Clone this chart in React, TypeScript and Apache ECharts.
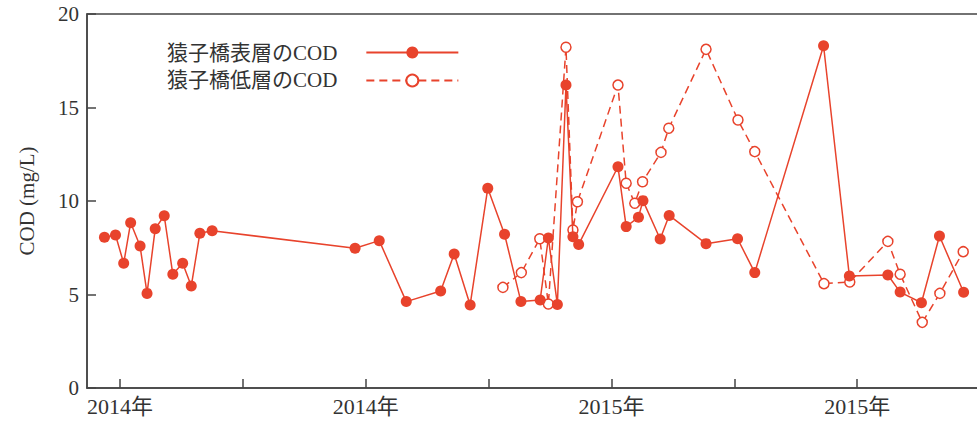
import React, { useEffect, useRef } from 'react';
import * as echarts from 'echarts';

const surfaceName = '猿子橋表層のCOD';
const bottomName = '猿子橋低層のCOD';

const surfaceX = [-0.38, -0.11, 0.09, 0.26, 0.49, 0.66, 0.86, 1.08, 1.29, 1.53, 1.74, 1.95, 2.25,
  5.74, 6.33, 6.99, 7.83, 8.16, 8.55, 8.98, 9.39, 9.79, 10.26, 10.46, 10.68, 10.89, 11.06, 11.2,
  12.16, 12.36, 12.66, 12.77, 13.19, 13.41, 14.31, 15.08, 15.5, 17.18, 17.81, 18.75, 19.05, 19.57, 20.01, 20.6];
const surfaceY = [8.06, 8.18, 6.67, 8.84, 7.59, 5.06, 8.52, 9.21, 6.08, 6.67, 5.45, 8.27, 8.41,
  7.47, 7.88, 4.62, 5.19, 7.17, 4.44, 10.68, 8.22, 4.62, 4.71, 8.02, 4.47, 16.2, 8.09, 7.68,
  11.83, 8.63, 9.13, 10.02, 7.97, 9.23, 7.72, 7.98, 6.17, 18.3, 5.99, 6.04, 5.13, 4.56, 8.13, 5.12];

const bottomX = [9.35, 9.8, 10.25, 10.46, 10.89, 11.06, 11.17, 12.16, 12.36, 12.57, 12.76, 13.21, 13.4,
  14.31, 15.09, 15.5, 17.19, 17.82, 18.75, 19.05, 19.59, 20.02, 20.59];
const bottomY = [5.38, 6.17, 7.98, 4.49, 18.22, 8.45, 9.96, 16.2, 10.95, 9.88, 11.03, 12.6, 13.89,
  18.11, 14.33, 12.64, 5.58, 5.67, 7.84, 6.08, 3.51, 5.06, 7.29];

const xTickValues = [0, 3, 6, 9, 12, 15, 18];
const xLabelValues = [0, 6, 12, 18];
const xLabelTexts = ['2014年', '2014年', '2015年', '2015年'];

const RED = '#e8432c';
const FONT = '"Liberation Serif", "DejaVu Serif", "Noto Sans CJK JP", serif';

export default function App() {
  const ref = useRef<HTMLDivElement>(null);
  useEffect(() => {
    document.body.style.margin = '0';
    document.body.style.overflow = 'hidden';
    const chart = echarts.init(ref.current!, null, { renderer: 'svg' });
    const surfaceData = surfaceX.map((x, i) => [x, surfaceY[i]]);
    const bottomData = bottomX.map((x, i) => [x, bottomY[i]]);
    chart.setOption({
      animation: false,
      backgroundColor: '#fff',
      grid: {
        left: 87, top: 14, right: -3, bottom: 41,
        show: true, borderColor: '#444', borderWidth: 1.5,
        outerBoundsMode: 'none',
      },
      legend: {
        orient: 'vertical', left: 167, top: 42, align: 'right', padding: 0,
        itemWidth: 92, itemHeight: 15, itemGap: 7,
        textStyle: { fontFamily: FONT, fontSize: 21, color: '#333', lineHeight: 20, padding: [0, 24, 0, 0] },
        data: [surfaceName, bottomName],
      },
      xAxis: {
        type: 'value', min: -0.806, max: 21.0,
        axisLine: { show: true, onZero: false, lineStyle: { color: '#444', width: 1.5 } },
        axisTick: { show: true, inside: true, length: 9, customValues: xTickValues, lineStyle: { color: '#444', width: 1.5 } },
        axisLabel: {
          customValues: xLabelValues,
          formatter: (v: number) => {
            const i = xLabelValues.indexOf(Math.round(v));
            return i >= 0 ? xLabelTexts[i] : '';
          },
          fontFamily: FONT, fontSize: 22, color: '#333', margin: 7,
        },
        splitLine: { show: false },
      },
      yAxis: {
        type: 'value', min: 0, max: 20, interval: 5,
        name: 'COD (mg/L)', nameLocation: 'middle', nameGap: 50,
        nameTextStyle: { fontFamily: FONT, fontSize: 21, color: '#333' },
        axisLine: { show: true, onZero: false, lineStyle: { color: '#444', width: 1.5 } },
        axisTick: { show: true, inside: true, length: 9, lineStyle: { color: '#444', width: 1.5 } },
        axisLabel: { fontFamily: FONT, fontSize: 21, color: '#333', margin: 8 },
        splitLine: { show: false },
      },
      series: [
        {
          name: surfaceName, type: 'line', data: surfaceData,
          symbol: 'circle', symbolSize: 11,
          lineStyle: { color: RED, width: 1.5 },
          itemStyle: { color: RED },
          z: 3,
        },
        {
          name: bottomName, type: 'line', data: bottomData,
          symbol: 'circle', symbolSize: 10,
          lineStyle: { color: RED, width: 1.5, type: [8, 5] },
          itemStyle: { color: '#fff', borderColor: RED, borderWidth: 1.5 },
          z: 2,
        },
      ],
    });
    return () => chart.dispose();
  }, []);
  return <div ref={ref} style={{ width: 977, height: 429 }} />;
}
